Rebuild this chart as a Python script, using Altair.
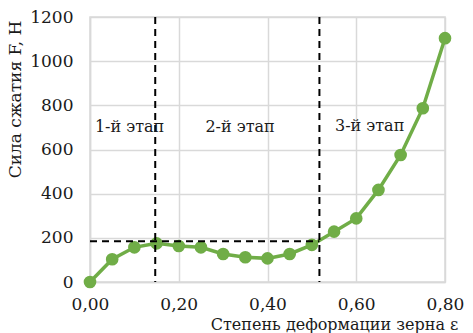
import altair as alt
import pandas as pd

eps = [0.00, 0.05, 0.10, 0.15, 0.20, 0.25, 0.30, 0.35, 0.40, 0.45, 0.50, 0.55, 0.60, 0.65, 0.70, 0.75, 0.80]
force = [0, 103, 157, 175, 163, 157, 127, 112, 107, 127, 168, 228, 288, 417, 575, 787, 1104]

vlines_x = [0.147, 0.517]
hline_y = 185
stage_labels = ["1-й этап", "2-й этап", "3-й этап"]
stage_x = [0.011, 0.26, 0.552]
stage_y = [700, 700, 705]

FONT = "DejaVu Serif"
GREEN = "#70ad47"
TXT = "#1a1a1a"

df = pd.DataFrame({"eps": eps, "F": force})
xs = alt.Scale(domain=[0, 0.8], nice=False)
ys = alt.Scale(domain=[0, 1200], nice=False)

base = alt.Chart(df)
line = base.mark_line(color=GREEN, strokeWidth=3.5).encode(
    x=alt.X("eps:Q", scale=xs,
            axis=alt.Axis(values=[0, 0.2, 0.4, 0.6, 0.8],
                          labelExpr="replace(format(datum.value, '.2f'), '.', ',')",
                          labelFlush=False, labelPadding=14,
                          title="Степень деформации зерна ε", titleFontSize=16,
                          titleX=244, titleY=47, titleAnchor="middle",
                          titleBaseline="alphabetic", titleFontWeight="normal")),
    y=alt.Y("F:Q", scale=ys,
            axis=alt.Axis(values=[0, 200, 400, 600, 800, 1000, 1200], format="d",
                          labelFlush=False, labelPadding=17,
                          title="Сила сжатия F, Н", titleX=-66, titleY=82,
                          titleFontWeight="normal")),
)
pts = base.mark_circle(color=GREEN, size=160, opacity=1).encode(x="eps:Q", y="F:Q")

vdf = pd.DataFrame({"x": vlines_x})
vl = alt.Chart(vdf).mark_rule(color="black", strokeWidth=2, strokeDash=[7, 5]).encode(
    x="x:Q", y=alt.value(0), y2=alt.value(265))
hdf = pd.DataFrame({"y": [hline_y], "x0": [0.0], "x1": [vlines_x[1]]})
hl = alt.Chart(hdf).mark_rule(color="black", strokeWidth=2, strokeDash=[7, 5]).encode(
    x="x0:Q", x2="x1:Q", y="y:Q")

tdf = pd.DataFrame({"t": stage_labels, "x": stage_x, "y": stage_y})
txt = alt.Chart(tdf).mark_text(font=FONT, fontSize=16, align="left", baseline="middle",
                               color=TXT).encode(x="x:Q", y="y:Q", text="t:N")

chart = alt.layer(line, pts, vl, hl, txt).properties(
    width=355, height=265,
    autosize=alt.AutoSizeParams(type="none"),
    padding={"left": 82, "top": 9, "right": 20, "bottom": 51},
).configure(font=FONT).configure_view(stroke="#d9d9d9", strokeWidth=1.5).configure_axis(
    labelFont=FONT, titleFont=FONT, labelFontSize=17, titleFontSize=17,
    labelColor=TXT, titleColor=TXT,
    gridColor="#d9d9d9", gridWidth=1.5, domainColor="#d9d9d9", domainWidth=1.5,
    ticks=False,
)

chart.save("out.html", embed_options={"renderer": "svg", "actions": False})
